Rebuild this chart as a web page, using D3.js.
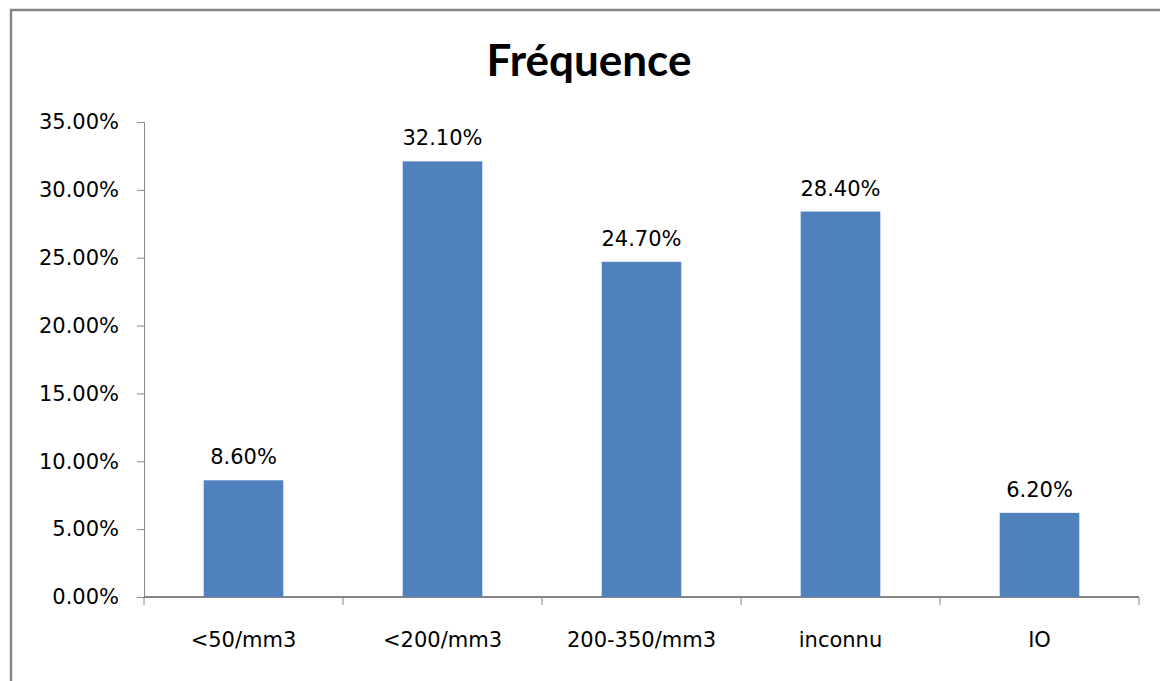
<!DOCTYPE html>
<html>
<head>
<meta charset="utf-8">
<script src="https://cdn.jsdelivr.net/npm/d3@7"></script>
<style>
  html, body { margin: 0; padding: 0; background: #fff; }
  svg { display: block; }
</style>
</head>
<body>
<svg id="chart" width="1160" height="681"></svg>
<script>
// Category labels and their frequencies (percent)
const categories = ["<50/mm3", "<200/mm3", "200-350/mm3", "inconnu", "IO"];
const frequencies = [8.6, 32.1, 24.7, 28.4, 6.2];
const yTicks = [0, 5, 10, 15, 20, 25, 30, 35];
const title = "Fréquence";

const svg = d3.select("#chart");
const W = 1160, H = 681;
const margin = { left: 144, right: 21, top: 122, bottom: 84 };
const plotW = W - margin.left - margin.right;
const plotH = H - margin.top - margin.bottom;
const labelFont = "'DejaVu Sans', Verdana, sans-serif";
const labelSize = 21;

// Outer frame (only top and left edges fall inside the canvas)
svg.append("path")
  .attr("d", `M11,${H} L11,10 L${W},10`)
  .attr("fill", "none")
  .attr("stroke", "#868686")
  .attr("stroke-width", 2.5);

// Title
svg.append("text")
  .attr("x", 589)
  .attr("y", 76)
  .attr("text-anchor", "middle")
  .attr("font-family", "Lato, 'Open Sans', sans-serif")
  .attr("font-weight", "bold")
  .attr("font-size", 44)
  .attr("fill", "#000")
  .text(title);

const g = svg.append("g").attr("transform", `translate(${margin.left},${margin.top})`);

const x = d3.scaleBand().domain(categories).range([0, plotW]).paddingInner(0.6).paddingOuter(0.3);
const xTickScale = d3.scaleBand().domain(categories).range([0, plotW]);
const y = d3.scaleLinear().domain([0, 35]).range([plotH, 0]);

// Y axis
const yAxis = g.append("g")
  .call(d3.axisLeft(y).tickValues(yTicks).tickSize(7).tickPadding(18)
    .tickFormat(d => d3.format(".2f")(d) + "%"));
yAxis.select(".domain").attr("stroke", "#868686").attr("stroke-width", 1);
yAxis.selectAll(".tick line").attr("stroke", "#868686");
yAxis.selectAll(".tick text")
  .attr("font-family", labelFont)
  .attr("font-size", labelSize)
  .attr("fill", "#000");

// X axis baseline with ticks at category boundaries
const xAxis = g.append("g").attr("transform", `translate(0,${plotH})`);
xAxis.append("line")
  .attr("x1", 0).attr("x2", plotW)
  .attr("stroke", "#868686").attr("stroke-width", 2);
const boundaries = categories.map(c => xTickScale(c)).concat([plotW]);
xAxis.selectAll("line.tick")
  .data(boundaries)
  .join("line")
  .attr("class", "tick")
  .attr("x1", d => d).attr("x2", d => d)
  .attr("y1", 0).attr("y2", 8)
  .attr("stroke", "#868686").attr("stroke-width", 1);
xAxis.selectAll("text")
  .data(categories)
  .join("text")
  .attr("x", d => xTickScale(d) + xTickScale.bandwidth() / 2)
  .attr("y", 50)
  .attr("text-anchor", "middle")
  .attr("font-family", labelFont)
  .attr("font-size", labelSize)
  .attr("fill", "#000")
  .text(d => d);

// Bars
g.selectAll("rect.bar")
  .data(frequencies)
  .join("rect")
  .attr("class", "bar")
  .attr("x", (d, i) => x(categories[i]))
  .attr("width", x.bandwidth())
  .attr("y", d => y(d))
  .attr("height", d => plotH - y(d))
  .attr("fill", "#4F81BD");

// Value labels
g.selectAll("text.val")
  .data(frequencies)
  .join("text")
  .attr("class", "val")
  .attr("x", (d, i) => x(categories[i]) + x.bandwidth() / 2)
  .attr("y", d => y(d) - 16)
  .attr("text-anchor", "middle")
  .attr("font-family", labelFont)
  .attr("font-size", labelSize)
  .attr("fill", "#000")
  .text(d => d3.format(".2f")(d) + "%");
</script>
</body>
</html>
